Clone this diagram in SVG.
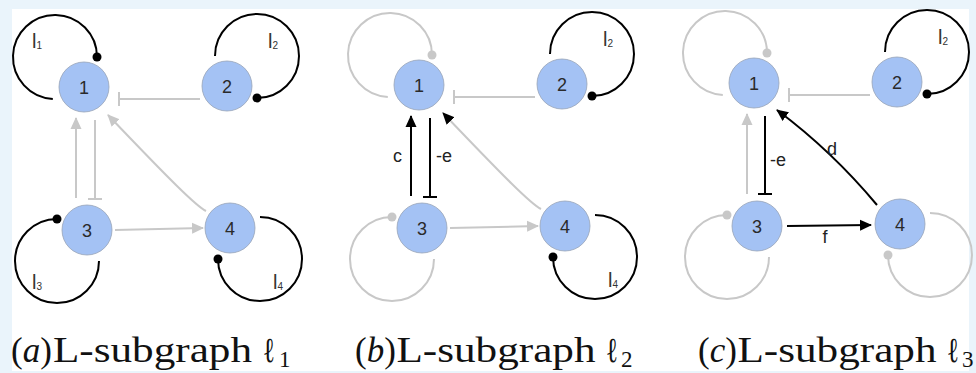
<svg xmlns="http://www.w3.org/2000/svg" width="976" height="373" viewBox="0 0 976 373">
<defs>
<marker id="ag" markerUnits="userSpaceOnUse" markerWidth="12" markerHeight="12" viewBox="0 0 12 12" refX="11" refY="6" orient="auto"><path d="M0,0.5 L12,6 L0,11.5 z" fill="#c8c8c8"/></marker>
<marker id="ab" markerUnits="userSpaceOnUse" markerWidth="12" markerHeight="12" viewBox="0 0 12 12" refX="11" refY="6" orient="auto"><path d="M0,0.5 L12,6 L0,11.5 z" fill="#000"/></marker>
<marker id="tg" markerUnits="userSpaceOnUse" markerWidth="3" markerHeight="14" viewBox="0 0 3 14" refX="1.5" refY="7" orient="auto"><path d="M1.5,0 L1.5,14" stroke="#c8c8c8" stroke-width="2"/></marker>
<marker id="tb" markerUnits="userSpaceOnUse" markerWidth="3" markerHeight="14" viewBox="0 0 3 14" refX="1.5" refY="7" orient="auto"><path d="M1.5,0 L1.5,14" stroke="#000" stroke-width="2"/></marker>
</defs>
<style>
.bg{fill:#eaf4fb}
.panel{fill:#fff}
.node circle{fill:#a4c2f4;stroke:#97a3b8;stroke-width:0.8}
.node text{font-family:"Liberation Sans",Arial,sans-serif;font-size:18px;fill:#2a2a2a;text-anchor:middle}
.g{fill:none;stroke:#c8c8c8;stroke-width:2}
.k{fill:none;stroke:#000;stroke-width:2}
.dg{fill:#c8c8c8}
.dk{fill:#000}
.lbl{font-family:"Liberation Sans",Arial,sans-serif;font-size:18px;fill:#222}
.ll{font-family:"Liberation Sans",Arial,sans-serif;font-size:20px;fill:#333}
.sub{font-size:10px}
.cap{font-family:"Liberation Serif","Times New Roman",serif;font-size:35px;fill:#111}
.csub{font-size:23px}
.it{font-style:italic}
</style>
<rect class="bg" x="0" y="0" width="976" height="373"/>
<rect class="panel" x="12" y="9" width="957" height="362"/>

<!-- Panel (a) -->
<g id="panel-a">
<g id="a-connectors">
<path class="k" d="M52.8,98.9 A42,42 0 1 1 97,57"/><circle class="dk" cx="97" cy="57" r="4.5"/>
<path class="k" d="M215,56 A42,42 0 1 1 257,98"/><circle class="dk" cx="257" cy="98" r="4.5"/>
<path class="k" d="M57,219 A42,42 0 1 0 99,261"/><circle class="dk" cx="57" cy="219" r="4.5"/>
<path class="k" d="M260,217 A42,42 0 1 1 218,259"/><circle class="dk" cx="218" cy="259" r="4.5"/>
<path class="g" d="M200,99 L119,99" marker-end="url(#tg)"/>
<path class="g" d="M76,198 L76,118" marker-end="url(#ag)"/>
<path class="g" d="M95,120 L95,199" marker-end="url(#tg)"/>
<path class="g" d="M206,211 C196,206 170,180 108,115" marker-end="url(#ag)"/>
<path class="g" d="M115,230 L203,228" marker-end="url(#ag)"/>
<text class="ll" x="32" y="47.5">l<tspan class="sub" dy="1">1</tspan></text>
<text class="ll" x="268" y="47.5">l<tspan class="sub" dy="1">2</tspan></text>
<text class="ll" x="32" y="289">l<tspan class="sub" dy="1">3</tspan></text>
<text class="ll" x="273" y="289">l<tspan class="sub" dy="1">4</tspan></text>
</g>
<g id="a-n1" class="node"><circle cx="84" cy="87" r="25"/><text x="84" y="93.5">1</text></g>
<g id="a-n2" class="node"><circle cx="227" cy="86" r="25"/><text x="227" y="92.5">2</text></g>
<g id="a-n3" class="node"><circle cx="87" cy="230" r="25"/><text x="87" y="236.5">3</text></g>
<g id="a-n4" class="node"><circle cx="230" cy="228" r="25"/><text x="230" y="234.5">4</text></g>
</g>

<!-- Panel (b) -->
<g id="panel-b" transform="translate(335,-2)">
<g id="b-connectors">
<path class="g" d="M52.8,98.9 A42,42 0 1 1 97,57"/><circle class="dg" cx="97" cy="57" r="4.5"/>
<path class="k" d="M215,56 A42,42 0 1 1 257,98"/><circle class="dk" cx="257" cy="98" r="4.5"/>
<path class="g" d="M57,219 A42,42 0 1 0 99,261"/><circle class="dg" cx="57" cy="219" r="4.5"/>
<path class="k" d="M260,217 A42,42 0 1 1 218,259"/><circle class="dk" cx="218" cy="259" r="4.5"/>
<path class="g" d="M200,99 L119,99" marker-end="url(#tg)"/>
<path class="k" d="M76,198 L76,118" marker-end="url(#ab)"/>
<path class="k" d="M95,120 L95,199" marker-end="url(#tb)"/>
<path class="g" d="M206,211 C196,206 170,180 108,115" marker-end="url(#ab)"/>
<path class="g" d="M115,230 L203,228" marker-end="url(#ag)"/>
<text class="ll" x="268" y="47.5">l<tspan class="sub" dy="1">2</tspan></text>
<text class="ll" x="273" y="289">l<tspan class="sub" dy="1">4</tspan></text>
<text class="lbl" x="62.5" y="164" text-anchor="middle">c</text>
<text class="lbl" x="101" y="164">-e</text>
</g>
<g id="b-n1" class="node"><circle cx="84" cy="87" r="25"/><text x="84" y="93.5">1</text></g>
<g id="b-n2" class="node"><circle cx="227" cy="86" r="25"/><text x="227" y="92.5">2</text></g>
<g id="b-n3" class="node"><circle cx="87" cy="230" r="25"/><text x="87" y="236.5">3</text></g>
<g id="b-n4" class="node"><circle cx="230" cy="228" r="25"/><text x="230" y="234.5">4</text></g>
</g>

<!-- Panel (c) -->
<g id="panel-c" transform="translate(670,-4)">
<g id="c-connectors">
<path class="g" d="M52.8,98.9 A42,42 0 1 1 97,57"/><circle class="dg" cx="97" cy="57" r="4.5"/>
<path class="k" d="M215,56 A42,42 0 1 1 257,98"/><circle class="dk" cx="257" cy="98" r="4.5"/>
<path class="g" d="M57,219 A42,42 0 1 0 99,261"/><circle class="dg" cx="57" cy="219" r="4.5"/>
<path class="g" d="M260,217 A42,42 0 1 1 218,259"/><circle class="dg" cx="218" cy="259" r="4.5"/>
<path class="g" d="M200,99 L119,99" marker-end="url(#tg)"/>
<path class="g" d="M77,198 L77,118" marker-end="url(#ag)"/>
<path class="k" d="M95,120 L95,198" marker-end="url(#tb)"/>
<path class="k" d="M207,209 Q162,155 107,114" marker-end="url(#ab)"/>
<path class="k" d="M117,230 L201,229" marker-end="url(#ab)"/>
<text class="ll" x="268" y="47.5">l<tspan class="sub" dy="1">2</tspan></text>
<text class="lbl" x="100" y="170">-e</text>
<text class="lbl" x="162" y="159" text-anchor="middle">d</text>
<text class="lbl" x="155" y="247" text-anchor="middle">f</text>
</g>
<g id="c-n1" class="node"><circle cx="84" cy="87" r="25"/><text x="84" y="93.5">1</text></g>
<g id="c-n2" class="node"><circle cx="227" cy="86" r="25"/><text x="227" y="92.5">2</text></g>
<g id="c-n3" class="node"><circle cx="87" cy="230" r="25"/><text x="87" y="236.5">3</text></g>
<g id="c-n4" class="node"><circle cx="230" cy="228" r="25"/><text x="230" y="234.5">4</text></g>
</g>

<!-- Captions -->
<g id="captions">
<text class="cap" y="362"><tspan x="11">(<tspan class="it">a</tspan>)</tspan><tspan x="53" textLength="199" lengthAdjust="spacingAndGlyphs">L-subgraph</tspan><tspan x="263" textLength="12" lengthAdjust="spacingAndGlyphs">ℓ</tspan><tspan class="csub" x="279" dy="5">1</tspan></text>
<text class="cap" y="362"><tspan x="355">(<tspan class="it">b</tspan>)</tspan><tspan x="396.5" textLength="199" lengthAdjust="spacingAndGlyphs">L-subgraph</tspan><tspan x="606" textLength="12" lengthAdjust="spacingAndGlyphs">ℓ</tspan><tspan class="csub" x="621" dy="5">2</tspan></text>
<text class="cap" y="362"><tspan x="698">(<tspan class="it">c</tspan>)</tspan><tspan x="737.5" textLength="199" lengthAdjust="spacingAndGlyphs">L-subgraph</tspan><tspan x="947" textLength="12" lengthAdjust="spacingAndGlyphs">ℓ</tspan><tspan class="csub" x="962" dy="5">3</tspan></text>
</g>
</svg>
